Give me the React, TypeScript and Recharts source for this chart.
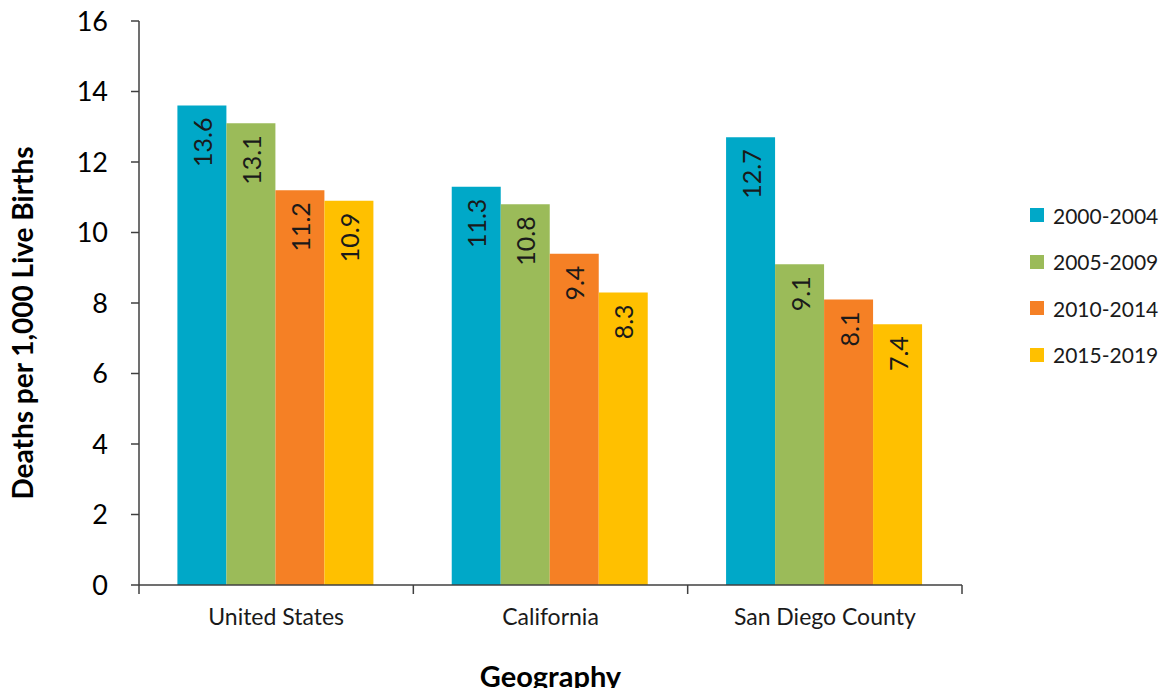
import React from "react";
import {
  BarChart,
  Bar,
  XAxis,
  YAxis,
  Legend,
  LabelList,
  Label,
} from "recharts";

const geographies = ["United States", "California", "San Diego County"];
const periods = ["2000-2004", "2005-2009", "2010-2014", "2015-2019"];
const rates2000 = [13.6, 11.3, 12.7];
const rates2005 = [13.1, 10.8, 9.1];
const rates2010 = [11.2, 9.4, 8.1];
const rates2015 = [10.9, 8.3, 7.4];
const yTicks = [0, 2, 4, 6, 8, 10, 12, 14, 16];

const colors = ["#00A8C8", "#9BBB59", "#F58025", "#FFC000"];
const series = [rates2000, rates2005, rates2010, rates2015];

const data = geographies.map((name, i) => {
  const row: Record<string, string | number> = { name };
  periods.forEach((p, j) => {
    row[p] = series[j][i];
  });
  return row;
});

const FONT = "Lato, 'Open Sans', sans-serif";
const AXIS = "#404040";

// value written sideways near the top of each bar, reading upward
const BarValue = (props: any) => {
  const { x, y, width, value } = props;
  const cx = x + width / 2;
  const ty = y + 12;
  return (
    <text
      x={cx}
      y={ty}
      transform={`rotate(-90, ${cx}, ${ty})`}
      textAnchor="end"
      dominantBaseline="central"
      fontSize={25}
      fontFamily={FONT}
      fill="#1a1a1a"
    >
      {Number(value).toFixed(1)}
    </text>
  );
};

// category ticks sit on the boundaries between groups
const GeoTick = (props: any) => {
  const { x, y, payload, index } = props;
  const half = payload.offset || 0;
  return (
    <g>
      <line x1={x - half} x2={x - half} y1={y} y2={y + 9} stroke={AXIS} strokeWidth={1.5} />
      {index === geographies.length - 1 && (
        <line x1={x + half} x2={x + half} y1={y} y2={y + 9} stroke={AXIS} strokeWidth={1.5} />
      )}
      <text x={x} y={y + 40} textAnchor="middle" fontSize={23} fontFamily={FONT} fill="#1a1a1a">
        {payload.value}
      </text>
    </g>
  );
};

const LegendBox = () => (
  <div style={{ fontFamily: FONT, fontSize: 21, color: "#1a1a1a" }}>
    {periods.map((p, i) => (
      <div key={p} style={{ display: "flex", alignItems: "center", height: 46.5 }}>
        <span
          style={{
            display: "inline-block",
            width: 14,
            height: 14,
            background: colors[i],
            marginRight: 9,
          }}
        />
        <span>{p}</span>
      </div>
    ))}
  </div>
);

export default function App() {
  return (
    <div style={{ margin: -8, background: "#fff", width: 1171, height: 696 }}>
      <BarChart
        width={1171}
        height={696}
        data={data}
        margin={{ top: 21, right: 209, left: 0, bottom: 0 }}
        barCategoryGap="14%"
        barGap={0}
      >
        <XAxis
          dataKey="name"
          height={111}
          tickSize={0}
          tickMargin={0}
          tick={<GeoTick />}
          stroke={AXIS}
          strokeWidth={1.5}
          interval={0}
        >
          <Label
            content={({ viewBox }: any) => (
              <text
                x={viewBox.x + viewBox.width / 2}
                y={687}
                textAnchor="middle"
                fontSize={29}
                fontWeight="bold"
                fontFamily={FONT}
                fill="#000"
              >
                Geography
              </text>
            )}
          />
        </XAxis>
        <YAxis
          width={139}
          domain={[0, 16]}
          ticks={yTicks}
          interval={0}
          tickSize={8}
          tickMargin={23}
          stroke={AXIS}
          strokeWidth={1.5}
          tick={{ fontSize: 27, fontFamily: FONT, fill: "#000" }}
        >
          <Label
            content={({ viewBox }: any) => {
              const cx = 22;
              const cy = viewBox.y + viewBox.height / 2 + 20;
              return (
                <text
                  x={cx}
                  y={cy}
                  transform={`rotate(-90, ${cx}, ${cy})`}
                  textAnchor="middle"
                  dominantBaseline="central"
                  fontSize={28}
                  fontWeight="bold"
                  fontFamily={FONT}
                  fill="#000"
                >
                  Deaths per 1,000 Live Births
                </text>
              );
            }}
          />
        </YAxis>
        <Legend
          layout="vertical"
          align="center"
          verticalAlign="middle"
          content={<LegendBox />}
          wrapperStyle={{ left: 1030, top: 192, width: 141 }}
        />
        {periods.map((p, i) => (
          <Bar key={p} dataKey={p} fill={colors[i]} isAnimationActive={false}>
            <LabelList dataKey={p} content={<BarValue />} />
          </Bar>
        ))}
      </BarChart>
    </div>
  );
}
